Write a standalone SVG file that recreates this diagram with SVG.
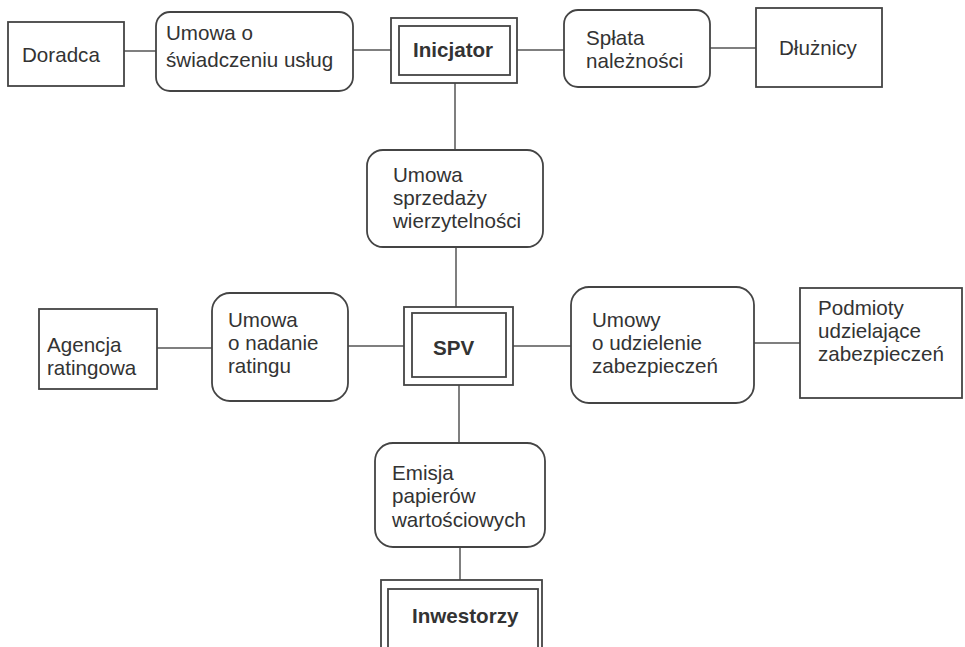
<svg xmlns="http://www.w3.org/2000/svg" width="965" height="647" viewBox="0 0 965 647">
<style>
.box{fill:#fff;stroke:#444;stroke-width:1.8}
.c{stroke:#555;stroke-width:1.5;fill:none}
text{font-family:"Liberation Sans",Arial,sans-serif;font-size:20.6px;fill:#333}
.b{font-weight:bold}
</style>
<rect width="965" height="647" fill="#fff"/>
<g id="connectors">
<line class="c" x1="124" y1="51" x2="156" y2="51"/>
<line class="c" x1="353" y1="50" x2="391" y2="50"/>
<line class="c" x1="517" y1="50" x2="564" y2="50"/>
<line class="c" x1="710" y1="48" x2="756" y2="48"/>
<line class="c" x1="455" y1="83" x2="455" y2="150"/>
<line class="c" x1="456" y1="247" x2="456" y2="307"/>
<line class="c" x1="157" y1="348" x2="212" y2="348"/>
<line class="c" x1="348" y1="346" x2="404" y2="346"/>
<line class="c" x1="513" y1="346" x2="571" y2="346"/>
<line class="c" x1="754" y1="343" x2="800" y2="343"/>
<line class="c" x1="459" y1="385" x2="459" y2="443"/>
<line class="c" x1="460" y1="547" x2="460" y2="580"/>
</g>
<g id="doradca">
<rect class="box" x="8" y="22" width="116" height="64"/>
<text x="22" y="62">Doradca</text>
</g>
<g id="umowa-uslug">
<rect class="box" x="156" y="12" width="197" height="79" rx="14"/>
<text x="166" y="40">Umowa o</text>
<text x="166" y="67">świadczeniu usług</text>
</g>
<g id="inicjator">
<rect class="box" x="391" y="18" width="126" height="65"/>
<rect class="box" x="399" y="26" width="111" height="49"/>
<text class="b" x="413" y="57">Inicjator</text>
</g>
<g id="splata">
<rect class="box" x="564" y="10" width="146" height="77" rx="14"/>
<text x="586" y="45">Spłata</text>
<text x="586" y="68">należności</text>
</g>
<g id="dluznicy">
<rect class="box" x="756" y="8" width="126" height="79"/>
<text x="779" y="55">Dłużnicy</text>
</g>
<g id="umowa-sprzedazy">
<rect class="box" x="367" y="150" width="176" height="97" rx="16"/>
<text x="393" y="182">Umowa</text>
<text x="393" y="205">sprzedaży</text>
<text x="393" y="228">wierzytelności</text>
</g>
<g id="agencja">
<rect class="box" x="39" y="309" width="118" height="80"/>
<text x="47" y="352">Agencja</text>
<text x="47" y="375">ratingowa</text>
</g>
<g id="umowa-rating">
<rect class="box" x="212" y="293" width="136" height="108" rx="18"/>
<text x="228" y="327">Umowa</text>
<text x="228" y="350">o nadanie</text>
<text x="228" y="373">ratingu</text>
</g>
<g id="spv">
<rect class="box" x="404" y="307" width="109" height="78"/>
<rect class="box" x="412" y="313" width="94" height="64"/>
<text class="b" x="433" y="355">SPV</text>
</g>
<g id="umowy-zabezpieczen">
<rect class="box" x="571" y="287" width="183" height="116" rx="18"/>
<text x="592" y="327">Umowy</text>
<text x="592" y="350">o udzielenie</text>
<text x="592" y="373">zabezpieczeń</text>
</g>
<g id="podmioty">
<rect class="box" x="800" y="288" width="162" height="110"/>
<text x="818" y="315">Podmioty</text>
<text x="818" y="338">udzielające</text>
<text x="818" y="361">zabezpieczeń</text>
</g>
<g id="emisja">
<rect class="box" x="375" y="443" width="170" height="104" rx="18"/>
<text x="392" y="480">Emisja</text>
<text x="392" y="503">papierów</text>
<text x="392" y="527">wartościowych</text>
</g>
<g id="inwestorzy">
<rect class="box" x="381" y="580" width="161" height="80"/>
<rect class="box" x="388" y="589" width="150" height="70"/>
<text class="b" x="412" y="623">Inwestorzy</text>
</g>
</svg>
